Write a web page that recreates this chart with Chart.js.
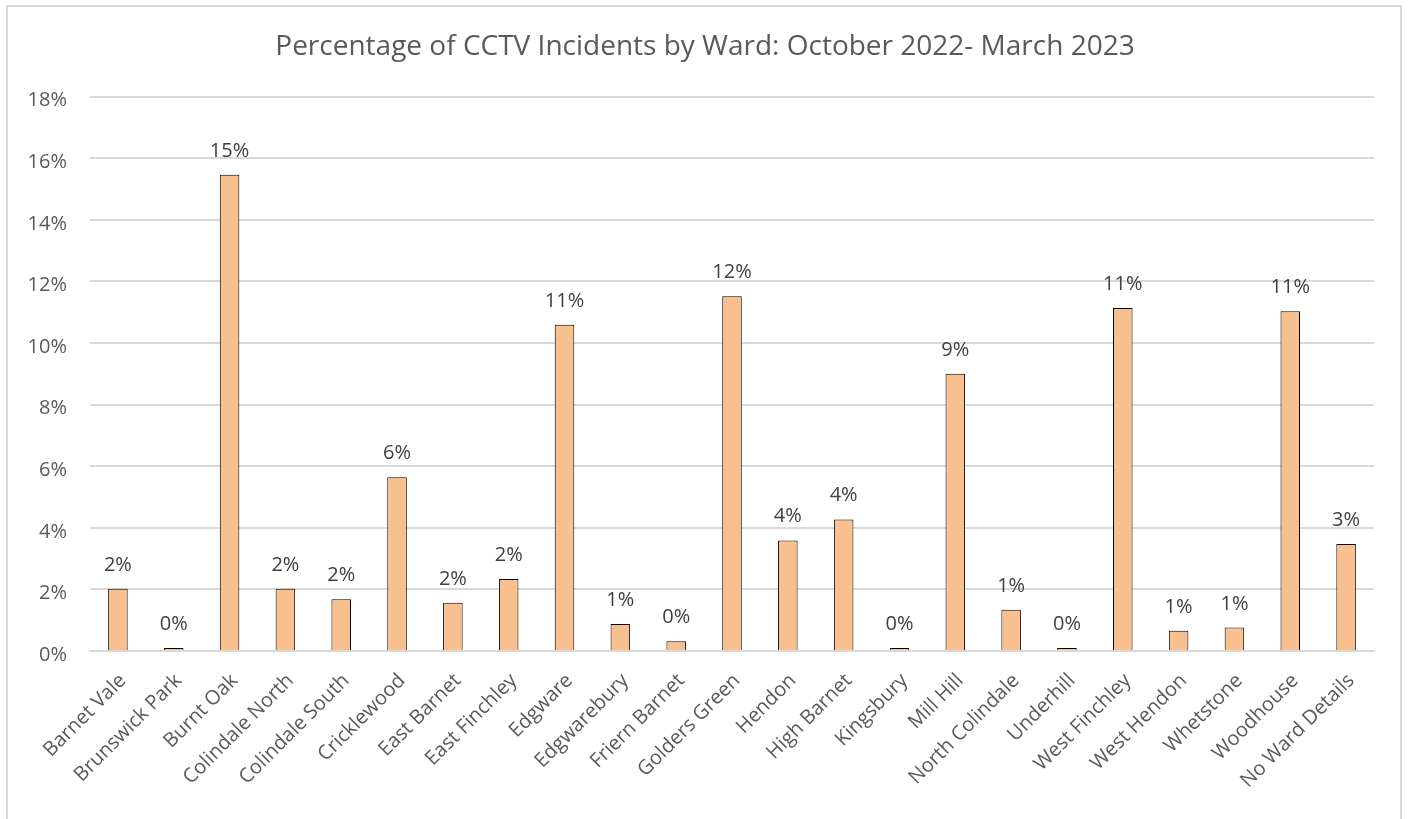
<!DOCTYPE html>
<html>
<head>
<meta charset="utf-8">
<title>CCTV Incidents by Ward</title>
<script src="https://cdn.jsdelivr.net/npm/chart.js@4.4.1/dist/chart.umd.min.js"></script>
<style>
  html, body { margin: 0; padding: 0; background: #fff; }
  #wrap { position: relative; width: 1410px; height: 819px; overflow: hidden; }
  #frame {
    position: absolute; left: 6px; top: 5px; width: 1396px; height: 840px;
    border: 2px solid #d9d9d9; box-sizing: border-box;
  }
  #chart { position: absolute; left: 0; top: 0; }
</style>
</head>
<body>
<div id="wrap">
  <div id="frame"></div>
  <canvas id="chart" width="1410" height="819"></canvas>
</div>
<script>
// Ward names along the x axis
const wards = [
  'Barnet Vale', 'Brunswick Park', 'Burnt Oak', 'Colindale North', 'Colindale South',
  'Cricklewood', 'East Barnet', 'East Finchley', 'Edgware', 'Edgwarebury',
  'Friern Barnet', 'Golders Green', 'Hendon', 'High Barnet', 'Kingsbury',
  'Mill Hill', 'North Colindale', 'Underhill', 'West Finchley', 'West Hendon',
  'Whetstone', 'Woodhouse', 'No Ward Details'
];

// Share of incidents per ward, in percent
const incidentPct = [
  2.02, 0.10, 15.46, 2.02, 1.68,
  5.64, 1.57, 2.34, 10.59, 0.88,
  0.32, 11.52, 3.59, 4.27, 0.10,
  9.00, 1.34, 0.10, 11.14, 0.66,
  0.76, 11.03, 3.47
];

const yMax = 18;
const yStep = 2;

const FONT = '"Open Sans", Lato, sans-serif';
const GREY = '#595959';

// writes the rounded percentage above each bar
const barValueLabels = {
  id: 'barValueLabels',
  afterDatasetsDraw(chart) {
    const { ctx } = chart;
    const meta = chart.getDatasetMeta(0);
    ctx.save();
    ctx.font = '20px ' + FONT;
    ctx.fillStyle = '#404040';
    ctx.textAlign = 'center';
    ctx.textBaseline = 'alphabetic';
    meta.data.forEach((bar, i) => {
      const v = chart.data.datasets[0].data[i];
      ctx.fillText(Math.round(v) + '%', bar.x, bar.y - 18);
    });
    ctx.restore();
  }
};

new Chart(document.getElementById('chart'), {
  type: 'bar',
  data: {
    labels: wards,
    datasets: [{
      data: incidentPct,
      backgroundColor: '#f8c08e',
      borderColor: '#000000',
      borderWidth: 1,
      barPercentage: 0.7,
      categoryPercentage: 0.5,
    }]
  },
  options: {
    responsive: false,
    animation: false,
    layout: { padding: 0 },
    plugins: {
      legend: { display: false },
      tooltip: { enabled: false },
      title: {
        display: true,
        text: 'Percentage of CCTV Incidents by Ward: October 2022- March 2023',
        color: GREY,
        font: { family: FONT, size: 28, weight: 'normal' },
        padding: { top: 30, bottom: 33 },
      },
    },
    scales: {
      x: {
        grid: { display: false, drawTicks: false },
        border: { display: true, color: '#d9d9d9', width: 2 },
        ticks: {
          color: GREY,
          font: { family: FONT, size: 20 },
          maxRotation: 45, minRotation: 45,
          autoSkip: false,
          padding: 18,
          labelOffset: 5,
        },
        afterFit(scale) { scale.height = 168; },
      },
      y: {
        min: 0, max: yMax,
        grid: { color: '#d9d9d9', lineWidth: 2, drawTicks: false },
        border: { display: false },
        ticks: {
          stepSize: yStep,
          color: GREY,
          font: { family: FONT, size: 20 },
          padding: 23,
          labelOffset: 4,
          callback: v => v + '%',
        },
        afterFit(scale) { scale.width = 90; },
      },
      // empty right-hand margin, so the title stays centred on the canvas
      yRight: {
        position: 'right',
        grid: { display: false, drawTicks: false },
        border: { display: false },
        ticks: { display: false },
        afterFit(scale) { scale.width = 36; },
      }
    }
  },
  plugins: [barValueLabels]
});
</script>
</body>
</html>
